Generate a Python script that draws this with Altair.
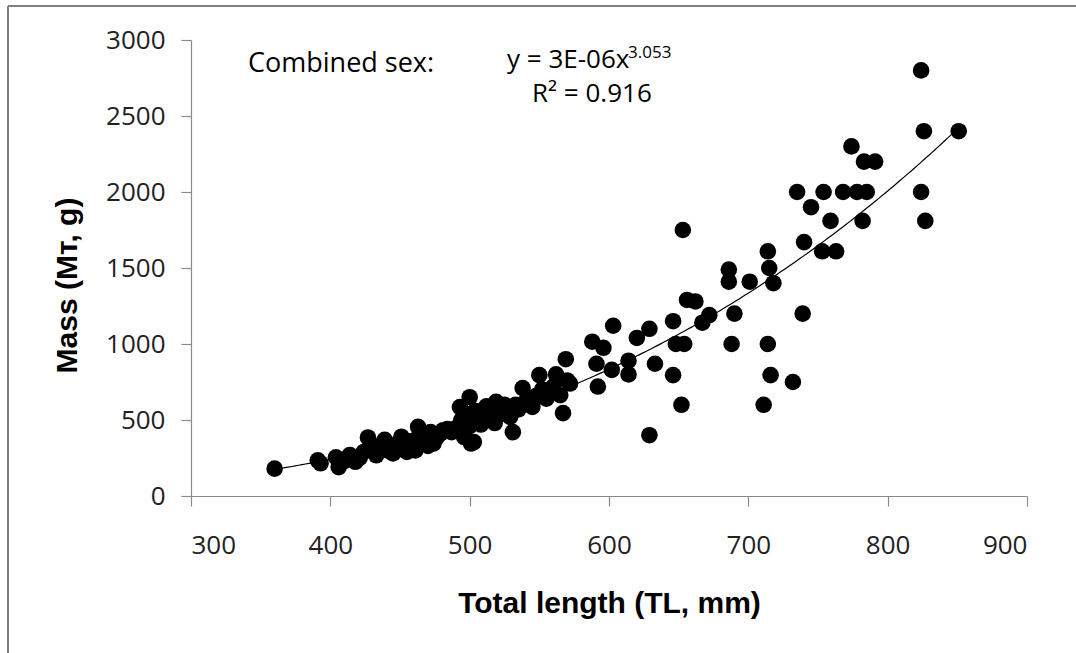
import altair as alt
import numpy as np
import pandas as pd

# Total length (mm) and body mass (g), both sexes combined
tl_mm = [
    360, 391, 393, 404, 406, 410, 414, 418, 421, 424,
    427, 429, 431, 433, 436, 439, 441, 443, 445, 447,
    449, 451, 453, 455, 457, 459, 461, 463, 464, 466,
    468, 470, 472, 474, 476, 479, 481, 484, 487, 490,
    493, 494, 495, 496, 498, 500, 500, 501, 503, 504,
    506, 508, 510, 512, 514, 516, 518, 519, 521, 523,
    525, 527, 529, 531, 533, 535, 538, 540, 543, 545,
    548, 550, 552, 555, 558, 560, 562, 565, 567, 569,
    570, 572,
    588, 591, 592, 596, 602, 603, 614, 614, 620, 629, 629, 633,
    646, 646, 648, 652, 653, 654, 656, 662, 667, 672, 686, 686, 688, 690,
    701, 711, 714, 714, 715, 716, 718, 732, 735, 739,
    740, 745, 753, 754, 759, 763, 768, 774, 778, 782,
    783, 785, 791, 824, 824, 826, 827, 851,
]
mass_g = [
    180, 235, 215, 255, 190, 230, 270, 225, 250, 290,
    385, 340, 300, 268, 320, 370, 300, 330, 280, 300,
    350, 390, 320, 290, 360, 330, 300, 455, 410, 350,
    390, 330, 420, 345, 380, 410, 433, 440, 420, 445,
    585, 500, 420, 388, 540, 650, 460, 345, 355, 560,
    500, 470, 540, 590, 520, 560, 480, 620, 580, 540,
    600, 560, 520, 420, 600, 570, 710, 620, 640, 586,
    660, 795, 700, 640, 700, 720, 800, 663, 545, 900,
    760, 740,
    1015, 870, 720, 975, 830, 1120, 890, 800, 1040, 1100, 400, 870,
    1150, 795, 1000, 600, 1750, 1000, 1290, 1280, 1140, 1190, 1490, 1410, 1000, 1200,
    1410, 600, 1610, 1000, 1500, 795, 1400, 750, 2000, 1200,
    1670, 1900, 1610, 2000, 1810, 1610, 2000, 2300, 2000, 1810,
    2200, 2000, 2200, 2800, 2000, 2400, 1810, 2400,
]

# Power-law fit  M = a * TL^b
fit_a = 2.75e-6
fit_b = 3.053
fit_r2 = 0.916

x_ticks = [300, 400, 500, 600, 700, 800, 900]
y_ticks = [0, 500, 1000, 1500, 2000, 2500, 3000]

points = pd.DataFrame({"tl": tl_mm, "mass": mass_g})
tl_line = np.linspace(min(tl_mm), max(tl_mm), 200)
trend = pd.DataFrame({"tl": tl_line, "mass": fit_a * tl_line ** fit_b})

W, H = 836, 456
PAD_L, PAD_T = 191, 40
GRAY = "#8a8a8a"

x_enc = alt.X("tl:Q", scale=alt.Scale(domain=[300, 900], nice=False),
              axis=alt.Axis(values=x_ticks, format="d",
                            title="Total length (TL, mm)",
                            titleFont="Liberation Sans", titleFontSize=30,
                            titleFontWeight="bold", titleColor="#000",
                            titleY=116, titleBaseline="alphabetic",
                            labelPadding=26))
y_enc = alt.Y("mass:Q", scale=alt.Scale(domain=[0, 3000], nice=False),
              axis=alt.Axis(values=y_ticks, format="d",
                            title="Mass (Mт, g)",
                            titleFont="Liberation Sans", titleFontSize=30,
                            titleFontWeight="bold", titleColor="#000",
                            titleX=-115, titleY=245, titleAngle=270,
                            titleAlign="center", titleBaseline="alphabetic",
                            labelPadding=16))

scatter = alt.Chart(points).mark_circle(size=275, color="#000", opacity=1).encode(
    x=x_enc, y=y_enc
)

line = alt.Chart(trend).mark_line(color="#000", strokeWidth=1.2).encode(
    x="tl:Q", y="mass:Q"
)

ann = pd.DataFrame({"k": [0]})
txt_font = "Open Sans"


def label(text, x, y, size):
    return alt.Chart(ann).mark_text(
        text=text, align="left", baseline="alphabetic", font=txt_font,
        fontSize=size, color="#000"
    ).encode(x=alt.value(x), y=alt.value(y))


annotations = (
    label("Combined sex:", 57, 32, 27)
    + label(f"y = {fit_a:.0E}x", 316, 28, 26)
    + label(f"{fit_b:.3f}", 437, 18, 17)
    + label(f"R\u00b2 = {fit_r2:.3f}", 341, 62, 26)
)

# Outer frame along the top and left edges of the figure
frame_top = alt.Chart(ann).mark_rule(color="#7f7f7f", strokeWidth=2).encode(
    x=alt.value(8 - PAD_L), x2=alt.value(1100 - PAD_L), y=alt.value(6 - PAD_T)
)
frame_left = alt.Chart(ann).mark_rule(color="#7f7f7f", strokeWidth=2).encode(
    x=alt.value(8 - PAD_L), y=alt.value(6 - PAD_T), y2=alt.value(700 - PAD_T)
)

chart = (
    alt.layer(line, scatter, annotations, frame_top, frame_left)
    .properties(
        width=W, height=H,
        autosize=alt.AutoSizeParams(type="none"),
        padding={"left": PAD_L, "top": PAD_T, "right": 1076 - PAD_L - W,
                 "bottom": 653 - PAD_T - H},
        background="white",
    )
    .configure_view(stroke=None)
    .configure_axis(
        grid=False, domainColor=GRAY, tickColor=GRAY, domainWidth=1.2,
        tickWidth=1.2, tickSize=10, labelFont="Open Sans", labelFontSize=26,
        labelColor="#222",
    )
)

chart.save("out.html", embed_options={"renderer": "svg", "actions": False})
